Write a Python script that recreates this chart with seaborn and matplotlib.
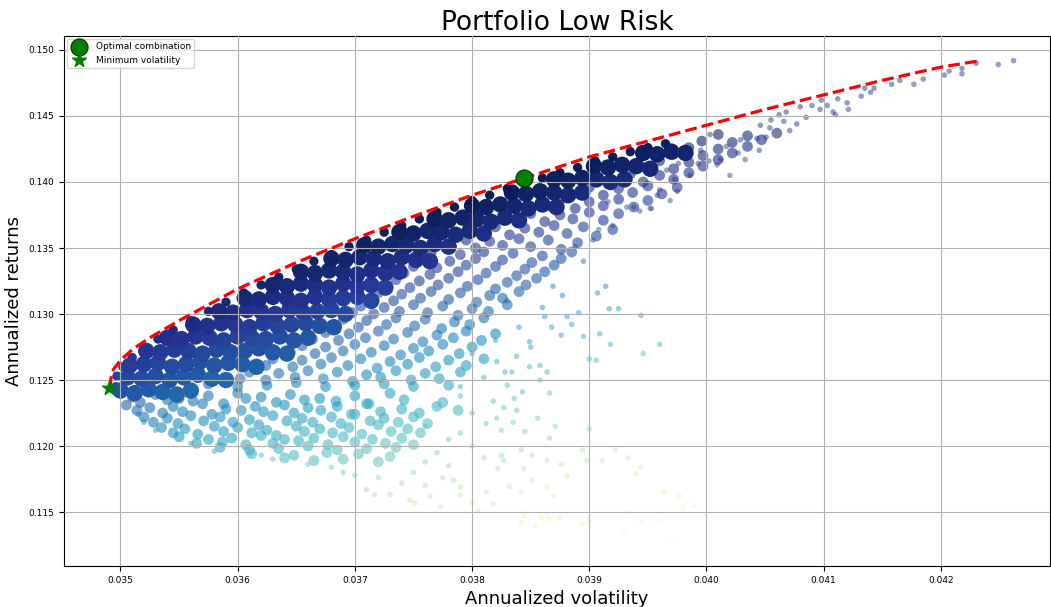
import numpy as np
import matplotlib
matplotlib.use("Agg")
import matplotlib.pyplot as plt
from matplotlib.ticker import FixedLocator, FormatStrFormatter
import seaborn as sns

# ---------------- data (percent units) ----------------
# efficient frontier (red dashed line)
frontier_vol = [3.491, 3.492, 3.494, 3.500, 3.510, 3.525, 3.550, 3.575, 3.600, 3.650,
                3.700, 3.750, 3.800, 3.845, 3.900, 3.950, 4.000, 4.050, 4.100, 4.150,
                4.200, 4.234]
frontier_ret = [12.44, 12.52, 12.58, 12.65, 12.73, 12.82, 12.95, 13.07, 13.19, 13.39,
                13.57, 13.74, 13.90, 14.03, 14.19, 14.31, 14.43, 14.55, 14.66, 14.77,
                14.87, 14.92]

# portfolios lying right under the frontier
edge_vol = [3.496, 3.497, 3.502, 3.510, 3.520, 3.532, 3.545, 3.560, 3.575, 3.590, 3.605,
            3.620, 3.635, 3.650, 3.665, 3.680, 3.695, 3.710, 3.725, 3.740, 3.755, 3.770,
            3.785, 3.800, 3.815, 3.830, 3.845, 3.860, 3.875, 3.890, 3.905, 3.920, 3.935,
            3.950, 3.965]
edge_ret = [12.45, 12.53, 12.60, 12.67, 12.74, 12.81, 12.88, 12.95, 13.02, 13.09, 13.16,
            13.22, 13.28, 13.34, 13.40, 13.45, 13.51, 13.56, 13.62, 13.67, 13.72, 13.77,
            13.81, 13.86, 13.90, 13.95, 13.99, 14.03, 14.07, 14.11, 14.16, 14.19, 14.23,
            14.26, 14.29]

# dense core of simulated portfolios
core_vol = [
    3.500, 3.512, 3.524, 3.536, 3.548, 3.560,
    3.506, 3.518, 3.530, 3.542, 3.554, 3.566, 3.578, 3.590,
    3.508, 3.520, 3.532, 3.544, 3.556, 3.568, 3.580, 3.592, 3.604, 3.616,
    3.522, 3.534, 3.546, 3.558, 3.570, 3.582, 3.594, 3.606, 3.618, 3.630, 3.642,
    3.540, 3.552, 3.564, 3.576, 3.588, 3.600, 3.612, 3.624, 3.636, 3.648, 3.660,
    3.562, 3.574, 3.586, 3.598, 3.610, 3.622, 3.634, 3.646, 3.658, 3.670, 3.682,
    3.584, 3.596, 3.608, 3.620, 3.632, 3.644, 3.656, 3.668, 3.680, 3.692,
    3.606, 3.618, 3.630, 3.642, 3.654, 3.666, 3.678, 3.690, 3.702, 3.714,
    3.630, 3.642, 3.654, 3.666, 3.678, 3.690, 3.702, 3.714, 3.726,
    3.654, 3.666, 3.678, 3.690, 3.702, 3.714, 3.726, 3.738,
    3.680, 3.692, 3.704, 3.716, 3.728, 3.740, 3.752, 3.764,
    3.708, 3.720, 3.732, 3.744, 3.756, 3.768, 3.780,
    3.738, 3.750, 3.762, 3.774, 3.786, 3.798, 3.810,
    3.768, 3.780, 3.792, 3.804, 3.816, 3.828, 3.840,
    3.800, 3.812, 3.824, 3.836, 3.848, 3.860, 3.872,
    3.834, 3.846, 3.858, 3.870, 3.882, 3.894,
    3.870, 3.882, 3.894, 3.906, 3.918, 3.930,
    3.904, 3.916, 3.928, 3.940, 3.952,
    3.946, 3.958, 3.970, 3.982,
]
core_ret = [
    12.42, 12.40, 12.43, 12.41, 12.39, 12.42,
    12.52, 12.51, 12.53, 12.50, 12.52, 12.54, 12.51, 12.50,
    12.61, 12.62, 12.63, 12.60, 12.62, 12.64, 12.61, 12.63, 12.62, 12.60,
    12.72, 12.71, 12.73, 12.72, 12.70, 12.73, 12.71, 12.72, 12.74, 12.71, 12.70,
    12.82, 12.81, 12.83, 12.82, 12.80, 12.83, 12.82, 12.81, 12.83, 12.80, 12.82,
    12.92, 12.91, 12.93, 12.92, 12.90, 12.93, 12.91, 12.92, 12.93, 12.91, 12.90,
    13.02, 13.01, 13.03, 13.02, 13.00, 13.03, 13.01, 13.02, 13.03, 13.00,
    13.12, 13.11, 13.13, 13.12, 13.10, 13.13, 13.11, 13.12, 13.13, 13.10,
    13.22, 13.21, 13.23, 13.22, 13.20, 13.23, 13.21, 13.22, 13.20,
    13.32, 13.31, 13.33, 13.32, 13.30, 13.33, 13.31, 13.32,
    13.42, 13.41, 13.43, 13.42, 13.40, 13.43, 13.41, 13.40,
    13.52, 13.51, 13.53, 13.52, 13.50, 13.53, 13.51,
    13.62, 13.61, 13.63, 13.62, 13.60, 13.63, 13.61,
    13.72, 13.71, 13.73, 13.72, 13.70, 13.73, 13.71,
    13.82, 13.81, 13.83, 13.82, 13.80, 13.83, 13.81,
    13.92, 13.91, 13.93, 13.92, 13.90, 13.92,
    14.02, 14.01, 14.03, 14.02, 14.00, 14.02,
    14.12, 14.11, 14.13, 14.12, 14.10,
    14.22, 14.21, 14.23, 14.22,
]

# speckled, medium-density portfolios
mid_vol = [
    3.510, 3.530, 3.550, 3.575, 3.600, 3.620, 3.645, 3.670, 3.700, 3.730,
    3.505, 3.525, 3.545, 3.570, 3.590, 3.615, 3.640, 3.660, 3.685, 3.710, 3.740, 3.770,
    3.520, 3.540, 3.560, 3.585, 3.610, 3.630, 3.655, 3.680, 3.700, 3.725, 3.750,
    3.535, 3.555, 3.580, 3.600, 3.625, 3.650, 3.670, 3.695, 3.720, 3.745,
    3.550, 3.575, 3.595, 3.620, 3.640, 3.665, 3.690, 3.715, 3.740,
    3.585, 3.610, 3.635, 3.660, 3.685, 3.710, 3.735,
    3.640, 3.665, 3.690, 3.720,
    3.517, 3.540, 3.562, 3.588, 3.607, 3.633, 3.657, 3.684, 3.712, 3.742, 3.775,
    3.514, 3.536, 3.553, 3.578, 3.603, 3.622, 3.648, 3.671, 3.697, 3.722, 3.755, 3.788,
    3.528, 3.549, 3.571, 3.596, 3.618, 3.642, 3.664, 3.688, 3.713, 3.737, 3.762,
    3.545, 3.566, 3.588, 3.612, 3.633, 3.657, 3.681, 3.706, 3.731, 3.756,
    3.565, 3.587, 3.607, 3.630, 3.652, 3.677, 3.700, 3.726, 3.750,
    3.612, 3.648, 3.676, 3.703, 3.730,
    3.575, 3.600, 3.625, 3.650, 3.675, 3.700, 3.725, 3.750, 3.780,
    3.602, 3.624, 3.649, 3.673, 3.698, 3.722, 3.748, 3.772,
    3.610, 3.635, 3.660, 3.685, 3.710, 3.735, 3.760, 3.790,
    3.624, 3.647, 3.671, 3.694, 3.719, 3.745, 3.769, 3.795,
    3.630, 3.655, 3.680, 3.705, 3.730, 3.755, 3.780, 3.810,
    3.645, 3.666, 3.690, 3.714, 3.739, 3.763, 3.789,
    3.655, 3.675, 3.700, 3.725, 3.750, 3.775, 3.800,
    3.664, 3.686, 3.709, 3.733, 3.758, 3.784, 3.808,
    3.675, 3.695, 3.720, 3.745, 3.770, 3.795, 3.820,
    3.683, 3.703, 3.727, 3.751, 3.774, 3.798,
    3.690, 3.710, 3.735, 3.760, 3.785, 3.810,
    3.698, 3.716, 3.738, 3.762, 3.788, 3.814,
    3.705, 3.725, 3.750, 3.775, 3.800, 3.830,
    3.712, 3.733, 3.756, 3.780, 3.804, 3.826,
    3.720, 3.740, 3.765, 3.790, 3.815, 3.840,
    3.728, 3.747, 3.771, 3.796, 3.820, 3.846,
    3.735, 3.755, 3.780, 3.805, 3.830, 3.855,
    3.742, 3.764, 3.788, 3.812, 3.838, 3.862,
    3.750, 3.770, 3.795, 3.820, 3.845, 3.870,
    3.758, 3.781, 3.803, 3.826, 3.851, 3.876,
    3.765, 3.790, 3.810, 3.835, 3.860, 3.885,
    3.780, 3.803, 3.826, 3.850, 3.876,
    3.795, 3.815, 3.840, 3.865, 3.890,
    3.810, 3.832, 3.857, 3.881, 3.906,
    3.820, 3.845, 3.870, 3.895, 3.920,
    3.838, 3.862, 3.886, 3.912,
    3.850, 3.875, 3.900, 3.925,
    3.868, 3.888, 3.912, 3.938,
    3.875, 3.900, 3.925, 3.950,
    3.892, 3.912, 3.937, 3.962,
    3.900, 3.925, 3.950, 3.975,
    3.918, 3.946, 3.972,
    3.935, 3.960, 3.985,
    3.948, 3.972, 3.997,
    3.960, 3.985, 4.010,
    3.972, 3.997, 4.022,
    3.985, 4.010, 4.035,
    3.996, 4.022, 4.047,
    4.010, 4.035, 4.060,
]
mid_ret = [
    12.37, 12.39, 12.36, 12.38, 12.40, 12.37, 12.39, 12.36, 12.38, 12.40,
    12.31, 12.29, 12.30, 12.32, 12.28, 12.30, 12.31, 12.29, 12.30, 12.32, 12.28, 12.30,
    12.22, 12.21, 12.23, 12.22, 12.20, 12.23, 12.21, 12.22, 12.24, 12.21, 12.22,
    12.14, 12.13, 12.15, 12.14, 12.12, 12.15, 12.13, 12.14, 12.16, 12.13,
    12.07, 12.05, 12.06, 12.08, 12.05, 12.06, 12.07, 12.05, 12.06,
    11.99, 11.97, 11.98, 12.00, 11.97, 11.98, 11.99,
    11.91, 11.89, 11.90, 11.88,
    12.33, 12.35, 12.34, 12.32, 12.36, 12.33, 12.35, 12.34, 12.32, 12.35, 12.33,
    12.27, 12.25, 12.26, 12.24, 12.27, 12.26, 12.25, 12.27, 12.24, 12.26, 12.25, 12.27,
    12.18, 12.17, 12.19, 12.18, 12.16, 12.19, 12.18, 12.17, 12.19, 12.18, 12.17,
    12.10, 12.09, 12.11, 12.10, 12.08, 12.11, 12.10, 12.09, 12.11, 12.10,
    12.02, 12.03, 12.01, 12.02, 12.04, 12.01, 12.03, 12.02, 12.01,
    11.94, 11.93, 11.95, 11.94, 11.92,
    12.47, 12.45, 12.46, 12.48, 12.45, 12.46, 12.47, 12.45, 12.46,
    12.51, 12.50, 12.52, 12.51, 12.49, 12.52, 12.50, 12.51,
    12.56, 12.55, 12.57, 12.56, 12.54, 12.57, 12.55, 12.56,
    12.61, 12.60, 12.62, 12.61, 12.59, 12.62, 12.60, 12.61,
    12.66, 12.65, 12.67, 12.66, 12.64, 12.67, 12.65, 12.66,
    12.71, 12.70, 12.72, 12.71, 12.69, 12.72, 12.70,
    12.76, 12.75, 12.77, 12.76, 12.74, 12.77, 12.75,
    12.81, 12.80, 12.82, 12.81, 12.79, 12.82, 12.80,
    12.86, 12.85, 12.87, 12.86, 12.84, 12.87, 12.85,
    12.91, 12.90, 12.92, 12.91, 12.89, 12.92,
    12.96, 12.95, 12.97, 12.96, 12.94, 12.97,
    13.01, 13.00, 13.02, 13.01, 12.99, 13.02,
    13.06, 13.05, 13.07, 13.06, 13.04, 13.07,
    13.11, 13.10, 13.12, 13.11, 13.09, 13.12,
    13.16, 13.15, 13.17, 13.16, 13.14, 13.17,
    13.21, 13.20, 13.22, 13.21, 13.19, 13.22,
    13.26, 13.25, 13.27, 13.26, 13.24, 13.27,
    13.31, 13.30, 13.32, 13.31, 13.29, 13.32,
    13.36, 13.35, 13.37, 13.36, 13.34, 13.37,
    13.41, 13.40, 13.42, 13.41, 13.39, 13.42,
    13.46, 13.45, 13.47, 13.46, 13.44, 13.47,
    13.51, 13.50, 13.52, 13.51, 13.49,
    13.56, 13.55, 13.57, 13.56, 13.54,
    13.61, 13.60, 13.62, 13.61, 13.59,
    13.66, 13.65, 13.67, 13.66, 13.64,
    13.71, 13.70, 13.72, 13.71,
    13.76, 13.75, 13.77, 13.76,
    13.81, 13.80, 13.82, 13.81,
    13.86, 13.85, 13.87, 13.86,
    13.91, 13.90, 13.92, 13.91,
    13.96, 13.95, 13.97, 13.96,
    14.01, 14.00, 14.02,
    14.06, 14.05, 14.07,
    14.11, 14.10, 14.12,
    14.16, 14.15, 14.17,
    14.21, 14.20, 14.22,
    14.26, 14.25, 14.27,
    14.31, 14.30, 14.32,
    14.36, 14.35, 14.37,
]

# sparse outlying portfolios
sparse_vol = [
    3.836, 3.843, 3.864, 3.849, 3.858, 3.849, 3.900, 3.900, 3.918, 3.946, 3.960, 3.894,
    3.898, 3.922, 3.911, 3.933, 3.944, 3.940, 3.964, 3.977, 3.990, 3.980, 3.934, 3.930,
    3.945, 3.960, 3.970, 3.895, 3.900, 3.875, 3.859, 3.844, 3.842, 3.854, 3.866, 3.818,
    3.812, 3.805, 3.800, 3.790, 3.773, 3.764, 3.751, 3.747, 3.730, 3.717, 3.710, 3.842,
    3.851, 3.832, 3.864, 3.870, 3.881, 3.864, 3.876, 3.844, 3.827, 3.822, 3.810, 3.790,
    3.784, 3.775, 3.851, 3.842, 3.825, 3.821, 3.835, 3.856, 3.866, 3.871, 3.845, 3.825,
    3.812, 3.838, 3.827, 3.818, 3.858, 3.866, 3.828, 3.834, 3.821, 3.838,
    3.907, 3.914, 3.917, 3.925, 3.944, 3.909, 3.895, 3.888, 3.903, 3.920, 3.908, 3.932,
    3.952, 3.943, 3.916, 3.969, 3.975, 3.958, 3.966, 3.973, 3.976, 3.877, 3.869, 3.891,
    3.881, 3.862, 3.885, 3.895, 3.876, 3.868, 3.906,
    4.262, 4.249, 4.230, 4.218, 4.218, 4.203, 4.207, 4.185, 4.177, 4.165, 4.158, 4.143,
    4.140, 4.135, 4.132, 4.120, 4.121, 4.112, 4.108, 4.110, 4.103, 4.098, 4.097, 4.090,
    4.085, 4.077, 4.071, 4.080, 4.066, 4.055, 4.054, 4.051, 4.043, 4.046, 4.062, 4.068,
    3.995, 4.012, 3.986, 4.029, 4.003, 4.020, 4.033, 4.045, 4.017, 4.027, 4.009, 4.002,
    3.993, 3.960, 3.953, 3.938,
    3.530, 3.560, 3.580, 3.620, 3.630, 3.660, 3.680, 3.690, 3.700, 3.720, 3.740, 3.760,
    3.780, 3.760, 3.800, 3.790, 3.800, 3.790, 3.830, 3.520, 3.515, 3.750, 3.770, 3.780,
    3.760, 3.790, 3.810, 3.800, 3.820, 3.840, 3.860, 3.850, 3.830,
]
sparse_ret = [
    12.36, 12.41, 12.56, 12.60, 12.61, 12.79, 12.66, 12.13, 12.77, 12.70, 12.77, 11.97,
    11.89, 11.97, 11.89, 11.91, 11.84, 11.79, 11.65, 11.62, 11.55, 11.53, 11.50, 11.36,
    11.42, 11.44, 11.28, 11.41, 11.43, 11.46, 11.46, 11.48, 11.42, 11.40, 11.45, 11.56,
    11.65, 11.51, 11.57, 11.63, 11.54, 11.62, 11.57, 11.59, 11.63, 11.63, 11.67, 11.65,
    11.74, 11.69, 11.69, 11.62, 11.77, 11.89, 11.86, 11.83, 11.89, 11.83, 11.91, 11.69,
    11.74, 11.76, 11.93, 11.97, 11.93, 12.21, 12.18, 12.21, 12.06, 12.15, 12.11, 12.12,
    12.17, 12.27, 12.29, 12.34, 12.50, 12.40, 12.56, 12.56, 12.64, 12.68,
    13.16, 13.21, 13.04, 13.04, 12.99, 12.85, 13.40, 13.51, 13.56, 13.67, 13.64, 13.81,
    13.80, 13.78, 13.85, 13.86, 13.93, 13.90, 14.09, 14.02, 14.14, 13.14, 13.21, 13.01,
    12.98, 12.98, 12.92, 12.83, 12.84, 12.90, 12.65,
    14.92, 14.89, 14.90, 14.86, 14.82, 14.81, 14.84, 14.78, 14.74, 14.77, 14.74, 14.71,
    14.68, 14.71, 14.65, 14.60, 14.55, 14.63, 14.53, 14.51, 14.58, 14.62, 14.55, 14.58,
    14.49, 14.44, 14.39, 14.57, 14.46, 14.47, 14.41, 14.34, 14.33, 14.43, 14.51, 14.53,
    14.24, 14.17, 14.05, 14.32, 14.36, 14.05, 14.17, 14.24, 14.27, 14.22, 14.13, 14.16,
    14.14, 13.94, 13.80, 13.81,
    12.12, 12.02, 11.96, 11.93, 11.90, 11.86, 11.84, 11.80, 11.78, 11.76, 11.72, 11.70,
    11.85, 11.88, 12.00, 12.10, 12.25, 12.38, 12.46, 12.18, 12.24, 11.80, 11.95, 12.05,
    12.15, 12.45, 12.52, 12.70, 12.80, 12.90, 13.05, 12.75, 13.10,
]

optimal_vol, optimal_ret = 3.8445, 14.028
minvol_vol, minvol_ret = 3.4904, 12.437
risk_free = 3.0

x_ticks = [0.035, 0.036, 0.037, 0.038, 0.039, 0.040, 0.041, 0.042]
y_ticks = [0.115, 0.120, 0.125, 0.130, 0.135, 0.140, 0.145, 0.150]

# ---------------- derived ----------------
def to_frac(a):
    return np.asarray(a, dtype=float) / 100.0

layers = {}
for name, v, r in [("sparse", sparse_vol, sparse_ret), ("mid", mid_vol, mid_ret),
                   ("core", core_vol, core_ret), ("edge", edge_vol, edge_ret)]:
    v = np.asarray(v, float); r = np.asarray(r, float)
    layers[name] = (v / 100, r / 100, (r - risk_free) / v)

all_sh = np.concatenate([layers[k][2] for k in layers])
norm = (all_sh.min(), all_sh.max())

# ---------------- plot ----------------
fig = plt.figure(figsize=(10.51, 6.07), dpi=100)
ax = fig.add_axes([64 / 1051, 41 / 607, 986 / 1051, 530 / 607])

styles = {"sparse": dict(s=16, alpha=0.45),
          "mid": dict(s=60, alpha=0.6),
          "core": dict(s=140, alpha=1.0),
          "edge": dict(s=45, alpha=1.0)}
for name in ["sparse", "mid", "core", "edge"]:
    v, r, sh = layers[name]
    sns.scatterplot(x=v, y=r, hue=sh, palette="YlGnBu", hue_norm=norm,
                    linewidth=0, legend=False, ax=ax, zorder=2, **styles[name])

sns.lineplot(x=to_frac(frontier_vol), y=to_frac(frontier_ret), sort=False,
             estimator=None, color="red", linewidth=2.3, linestyle="--",
             ax=ax, zorder=4)

ax.scatter([optimal_vol / 100], [optimal_ret / 100], marker="o", s=150,
           color="green", edgecolor="#0b3b0b", linewidth=0.9, zorder=5,
           label="Optimal combination")
ax.scatter([minvol_vol / 100], [minvol_ret / 100], marker="*", s=110,
           color="green", zorder=5, label="Minimum volatility")

ax.set_xlim(0.034518, 0.042931)
ax.set_ylim(0.11091, 0.15106)
ax.xaxis.set_major_locator(FixedLocator(x_ticks))
ax.yaxis.set_major_locator(FixedLocator(y_ticks))
ax.xaxis.set_major_formatter(FormatStrFormatter("%.3f"))
ax.yaxis.set_major_formatter(FormatStrFormatter("%.3f"))
ax.tick_params(labelsize=6.5)
ax.grid(True, color="#b0b0b0", linewidth=0.8, zorder=3)
ax.set_axisbelow(False)

ax.set_xlabel("Annualized volatility", fontsize=13)
ax.set_ylabel("Annualized returns", fontsize=13)
ax.set_title("Portfolio Low Risk", fontsize=19, pad=4)
ax.legend(loc="upper left", fontsize=6.5, borderaxespad=0.3)

fig.savefig("out.png", dpi=100)
